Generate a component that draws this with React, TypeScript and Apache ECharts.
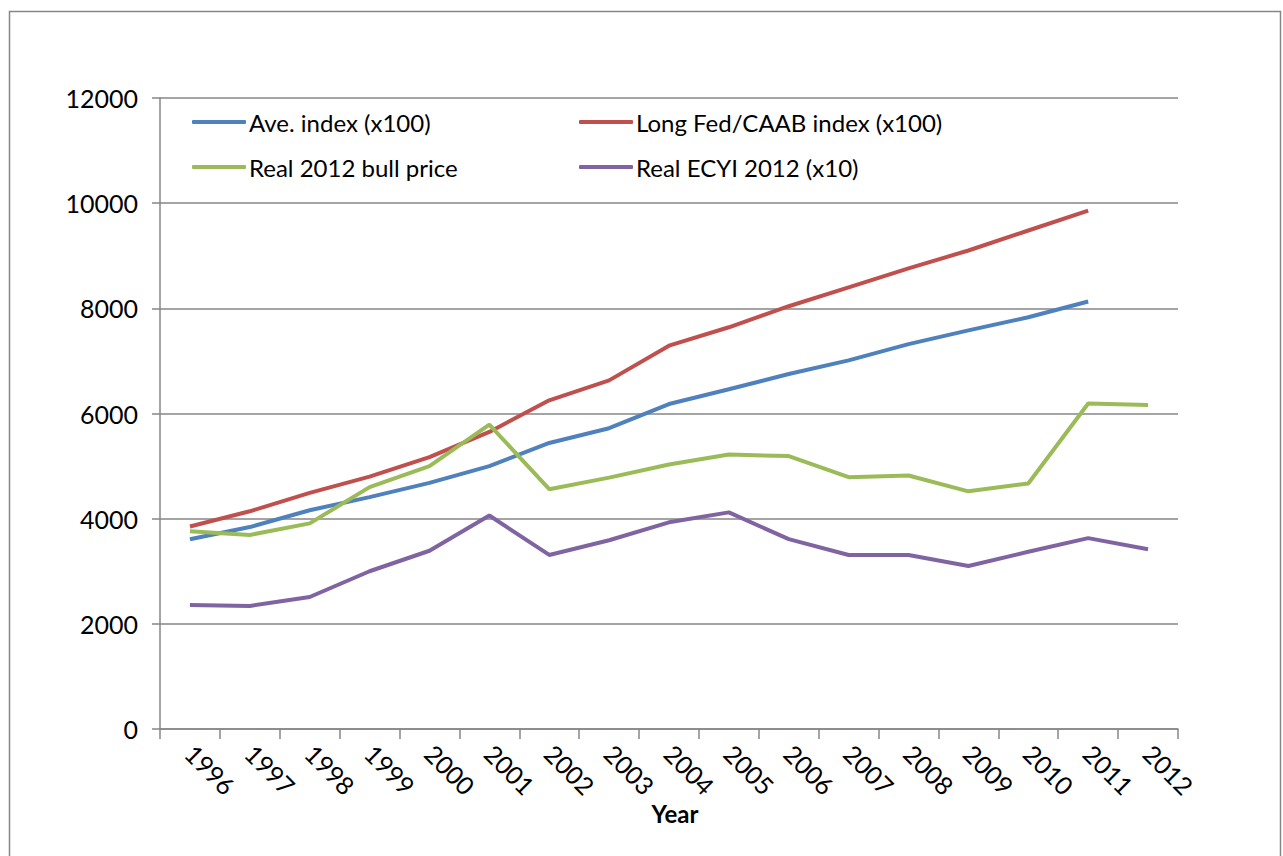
import React, { useEffect, useRef } from "react";
import * as echarts from "echarts";

const years = ["1996", "1997", "1998", "1999", "2000", "2001", "2002", "2003", "2004", "2005", "2006", "2007", "2008", "2009", "2010", "2011", "2012"];
const aveIndex = [3610, 3840, 4160, 4410, 4680, 5000, 5440, 5720, 6180, 6460, 6750, 7010, 7320, 7580, 7830, 8130, null];
const longFedIndex = [3850, 4140, 4490, 4800, 5170, 5650, 6250, 6630, 7290, 7640, 8040, 8400, 8760, 9100, 9480, 9860, null];
const bullPrice = [3760, 3690, 3910, 4600, 5000, 5790, 4560, 4780, 5030, 5220, 5190, 4790, 4820, 4520, 4670, 6190, 6160];
const ecyi = [2360, 2340, 2510, 3000, 3390, 4060, 3310, 3590, 3930, 4120, 3610, 3310, 3310, 3100, 3370, 3630, 3420];
const yTicks = { min: 0, max: 12000, interval: 2000 };

const FONT = "Lato, 'Open Sans', sans-serif";
const GRAY = "#868686";

export default function App() {
  const ref = useRef<HTMLDivElement>(null);

  useEffect(() => {
    if (!ref.current) return;
    const chart = echarts.init(ref.current, null, { renderer: "svg" });
    const line = (name: string, data: (number | null)[], color: string) => ({
      name,
      type: "line",
      data,
      symbol: "none",
      lineStyle: { color, width: 4 },
      itemStyle: { color },
      connectNulls: false,
    });
    const legendCommon = {
      orient: "vertical",
      top: 105,
      itemWidth: 54,
      itemHeight: 4,
      itemGap: 21,
      icon: "roundRect",
      textStyle: { fontFamily: FONT, fontSize: 24, color: "#000", padding: [0, 0, 0, -2] },
    };
    chart.setOption({
      animation: false,
      backgroundColor: "#fff",
      graphic: [
        {
          type: "rect",
          shape: { x: 9.5, y: 11.5, width: 1271, height: 900 },
          style: { fill: "none", stroke: GRAY, lineWidth: 1.5 },
          silent: true,
        },
      ],
      legend: [
        { ...legendCommon, left: 187, data: ["Ave. index (x100)", "Real 2012 bull price"] },
        { ...legendCommon, left: 574, data: ["Long Fed/CAAB index (x100)", "Real ECYI 2012 (x10)"] },
      ],
      grid: { left: 160, right: 105, top: 98, bottom: 127 },
      xAxis: {
        type: "category",
        data: years,
        boundaryGap: true,
        name: "Year",
        nameLocation: "middle",
        nameGap: 72,
        nameMoveOverlap: false,
        nameTextStyle: { fontFamily: FONT, fontSize: 24, fontWeight: "bold", color: "#000", padding: [0, 0, 0, 12] },
        axisLine: { lineStyle: { color: GRAY, width: 1.5 } },
        axisTick: { show: true, interval: 0, alignWithLabel: false, length: 10, lineStyle: { color: GRAY, width: 1.5 } },
        axisLabel: { interval: 0, rotate: -45, margin: 20, fontFamily: FONT, fontSize: 25, color: "#000" },
      },
      yAxis: {
        type: "value",
        min: yTicks.min,
        max: yTicks.max,
        interval: yTicks.interval,
        axisLine: { show: true, lineStyle: { color: GRAY, width: 1.5 } },
        axisTick: { show: true, length: 8, lineStyle: { color: GRAY, width: 1.5 } },
        axisLabel: { margin: 22, fontFamily: FONT, fontSize: 25, color: "#000", formatter: (v: number) => String(v) },
        splitLine: { lineStyle: { color: GRAY, width: 1.5 } },
      },
      series: [
        line("Ave. index (x100)", aveIndex, "#4F81BD"),
        line("Long Fed/CAAB index (x100)", longFedIndex, "#C0504D"),
        line("Real 2012 bull price", bullPrice, "#9BBB59"),
        line("Real ECYI 2012 (x10)", ecyi, "#8064A2"),
      ],
    });
    return () => chart.dispose();
  }, []);

  return (
    <div
      ref={ref}
      style={{ position: "fixed", left: 0, top: 0, width: 1283, height: 856, background: "#fff" }}
    />
  );
}
